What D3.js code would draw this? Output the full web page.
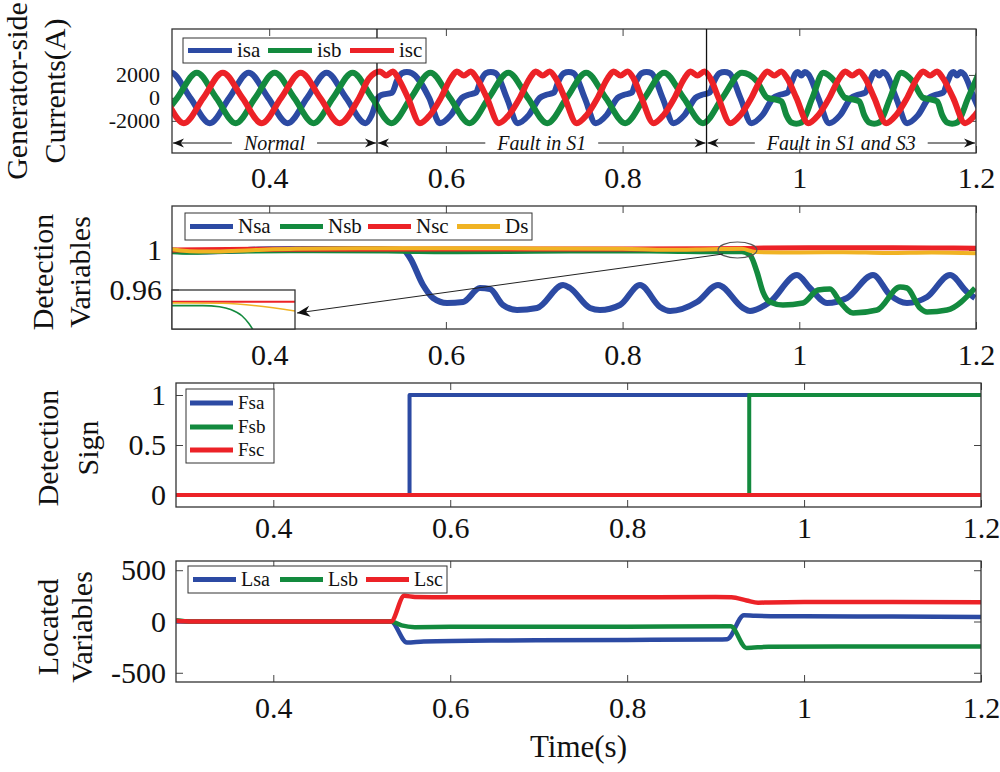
<!DOCTYPE html>
<html><head><meta charset="utf-8">
<script src="https://cdn.jsdelivr.net/npm/d3@7"></script>
<style>
html,body{margin:0;padding:0;background:#fff;}
svg text{font-family:"Liberation Serif","Times New Roman",serif;fill:#111;}
</style></head>
<body><svg id="chart" width="1000" height="772"></svg>
<script>
// ---------------- DATA ----------------
const xDomain = [0.29, 1.2];
const xTicks = [0.4, 0.6, 0.8, 1, 1.2];
const p1YTicks = [-2000, 0, 2000];
const p2YTicks = [0.96, 1];
const p3YTicks = [0, 0.5, 1];
const p4YTicks = [-500, 0, 500];
const yLabels = [["Generator-side", "Currents(A)"], ["Detection", "Variables"], ["Detection", "Sign"], ["Located", "Variables"]];
const xLabel = "Time(s)";
const colors = ["#2C4AA3", "#138A3E", "#EC2227", "#F0B323"];

// panel 1: generator-side currents (A) — key points
const regionBounds = [0.29, 0.522, 0.895, 1.2];
const regionLabels = ["Normal", "Fault in S1", "Fault in S1 and S3"];
const p1Names = ["isa", "isb", "isc"];
const isa = [[0.2667,0],[0.2887,2200],[0.3107,0],[0.3328,-2200],[0.3548,0],[0.3768,2200],[0.3989,0],[0.4209,-2200],[0.4430,0],[0.4650,2200],[0.4870,0],[0.5090,-2200],
 [0.5160,-1500],[0.5230,0],[0.5270,250],[0.5390,450],[0.5446,1500],[0.5503,2150],[0.5559,2250],[0.5616,2150],[0.5810,0],[0.5932,-2200],
 [0.6056,-1500],[0.6181,0],[0.6248,250],[0.6339,450],[0.6395,1500],[0.6452,2150],[0.6508,2250],[0.6565,2150],[0.6689,0],[0.6814,-2200],
 [0.6938,-1500],[0.7063,0],[0.7130,250],[0.7221,450],[0.7277,1500],[0.7334,2150],[0.7390,2250],[0.7447,2150],[0.7571,0],[0.7695,-2200],
 [0.7819,-1500],[0.7944,0],[0.8011,250],[0.8102,450],[0.8158,1500],[0.8215,2150],[0.8271,2250],[0.8328,2150],[0.8452,0],[0.8576,-2200],
 [0.8700,-1500],[0.8825,0],[0.8892,250],[0.8983,450],[0.9039,1500],[0.9096,2150],[0.9152,2250],[0.9209,2150],[0.9333,0],[0.9458,-2200],
 [0.9582,-1500],[0.9707,0],[0.9774,250],[0.9865,450],[0.9921,1500],[0.9955,2100],[0.9983,2250],[1.0023,1950],[1.0063,2250],[1.0102,2050],[1.0215,0],[1.0339,-2200],
 [1.0463,-1500],[1.0588,0],[1.0655,250],[1.0746,450],[1.0802,1500],[1.0836,2100],[1.0864,2250],[1.0904,1950],[1.0944,2250],[1.0983,2050],[1.1096,0],[1.1220,-2200],
 [1.1344,-1500],[1.1469,0],[1.1536,250],[1.1627,450],[1.1683,1500],[1.1717,2100],[1.1745,2250],[1.1785,1950],[1.1825,2250],[1.1864,2050],[1.1977,0],[1.2102,-2200]];
const isb = [[0.2740,-2200],[0.2960,0],[0.3181,2200],[0.3401,0],[0.3621,-2200],[0.3842,0],[0.4062,2200],[0.4283,0],[0.4503,-2200],[0.4723,0],[0.4944,2200],[0.5164,0],
 [0.5384,-2200],[0.5605,0],[0.5825,2200],[0.6046,0],[0.6266,-2200],[0.6486,0],[0.6707,2200],[0.6927,0],[0.7147,-2200],[0.7368,0],[0.7588,2200],[0.7809,0],
 [0.8029,-2200],[0.8249,0],[0.8469,2200],[0.8690,0],[0.8910,-2200],[0.9130,0],[0.9351,2200],
 [0.9515,1500],[0.9640,0],[0.9707,-100],[0.9798,-300],[0.9854,-1500],[0.9911,-2150],[0.9967,-2250],[1.0024,-2150],[1.0148,0],[1.0272,2200],
 [1.0396,1500],[1.0521,0],[1.0588,-100],[1.0679,-300],[1.0735,-1500],[1.0792,-2150],[1.0848,-2250],[1.0905,-2150],[1.1029,0],[1.1154,2200],
 [1.1278,1500],[1.1403,0],[1.1470,-100],[1.1561,-300],[1.1617,-1500],[1.1674,-2150],[1.1730,-2250],[1.1787,-2150],[1.1911,0],[1.2035,2200]];
const isc = [[0.2593,2200],[0.2814,0],[0.3034,-2200],[0.3255,0],[0.3475,2200],[0.3696,0],[0.3916,-2200],[0.4136,0],[0.4357,2200],[0.4577,0],[0.4797,-2200],[0.5018,0],
 [0.5130,1700],[0.5254,2300],[0.5322,1950],[0.5401,2300],[0.5460,1700],[0.5571,0],[0.5706,-2200],
 [0.5819,-1500],[0.5943,0],[0.6056,1700],[0.6124,2300],[0.6203,1950],[0.6282,2300],[0.6350,1700],[0.6464,0],[0.6599,-2200],
 [0.6712,-1500],[0.6836,0],[0.6949,1700],[0.7017,2300],[0.7096,1950],[0.7175,2300],[0.7243,1700],[0.7345,0],[0.7480,-2200],
 [0.7593,-1500],[0.7717,0],[0.7830,1700],[0.7898,2300],[0.7977,1950],[0.8056,2300],[0.8124,1700],[0.8215,0],[0.8350,-2200],
 [0.8463,-1500],[0.8587,0],[0.8700,1700],[0.8768,2300],[0.8847,1950],[0.8926,2300],[0.8994,1700],[0.9085,0],[0.9220,-2200],
 [0.9333,-1500],[0.9457,0],[0.9570,1700],[0.9638,2300],[0.9717,1950],[0.9796,2300],[0.9864,1700],[0.9967,0],[1.0102,-2200],
 [1.0215,-1500],[1.0339,0],[1.0452,1700],[1.0520,2300],[1.0599,1950],[1.0678,2300],[1.0746,1700],[1.0848,0],[1.0983,-2200],
 [1.1096,-1500],[1.1220,0],[1.1333,1700],[1.1401,2300],[1.1480,1950],[1.1559,2300],[1.1627,1700],[1.1741,0],[1.1876,-2200],
 [1.1989,-1500],[1.2113,0]];

// panel 2: detection variables
const p2Names = ["Nsa", "Nsb", "Nsc", "Ds"];
const Nsa = [[0.29,0.9995],[0.31,0.9985],[0.35,0.999],[0.40,1.0008],[0.50,1.001],[0.5515,1.0],[0.5594,0.992],[0.5741,0.965],[0.5854,0.952],[0.6013,0.947],[0.6194,0.948],[0.6386,0.962],[0.6499,0.961],[0.6646,0.945],[0.6805,0.940],[0.7031,0.942],[0.7326,0.965],[0.7405,0.962],[0.7631,0.942],[0.7744,0.940],[0.7971,0.945],[0.8197,0.965],[0.8423,0.943],[0.8537,0.939],[0.8842,0.948],[0.9080,0.965],[0.9363,0.942],[0.9442,0.939],[0.9668,0.948],[0.9974,0.975],[1.0121,0.962],[1.0314,0.947],[1.0540,0.952],[1.0834,0.975],[1.1027,0.955],[1.1219,0.947],[1.1446,0.953],[1.1706,0.975],[1.1898,0.958],[1.1989,0.952]];
const Nsb = [[0.29,0.9985],[0.31,0.998],[0.35,0.999],[0.45,0.9995],[0.55,0.999],[0.60,0.9985],[0.70,0.999],[0.80,0.9993],[0.85,0.999],[0.90,0.9985],[0.935,0.9985],[0.9442,0.995],[0.9521,0.978],[0.9589,0.958],[0.9668,0.948],[0.9815,0.945],[1.0042,0.947],[1.0212,0.960],[1.0348,0.961],[1.0461,0.948],[1.0608,0.937],[1.0880,0.940],[1.1140,0.963],[1.1219,0.962],[1.1366,0.942],[1.1446,0.938],[1.1672,0.940],[1.1989,0.962]];
const Nsc = [[0.29,1.0],[0.40,1.0008],[0.60,1.001],[0.80,1.001],[0.90,1.0012],[0.94,1.0015],[0.96,1.002],[1.05,1.0022],[1.15,1.002],[1.2,1.0018]];
const Ds = [[0.29,1.0008],[0.30,0.9995],[0.32,0.9984],[0.34,0.9985],[0.38,0.9998],[0.43,1.0012],[0.50,1.0017],[0.60,1.0017],[0.70,1.0016],[0.80,1.0012],[0.85,1.0002],[0.90,1.0008],[0.935,1.0012],[0.95,0.998],[1.0,0.9975],[1.05,0.9978],[1.1,0.997],[1.15,0.9975],[1.2,0.9968]];
// inset (zoom of the ellipse region)
const insetX = [0.907, 0.951];
const insetY = [0.9965, 1.0015];
const insetNsb = [[0.907,0.9995],[0.918,0.9995],[0.924,0.99935],[0.928,0.9990],[0.932,0.9982],[0.9345,0.9972],[0.937,0.9958]];
const insetNsc = [[0.907,1.0],[0.951,1.0]];
const insetDs = [[0.907,0.99985],[0.925,0.9998],[0.951,0.9988]];

// panel 3: detection sign
const p3Names = ["Fsa", "Fsb", "Fsc"];
const p3T = [0.29, 0.554, 0.938, 1.2];
const Fsa = [0, 1, 1, 1];
const Fsb = [0, 0, 1, 1];
const Fsc = [0, 0, 0, 0];

// panel 4: located variables
const p4Names = ["Lsa", "Lsb", "Lsc"];
const Lsa = [[0.29,0],[0.533,0],[0.551,-205],[0.57,-195],[0.65,-185],[0.80,-180],[0.90,-175],[0.913,-172],[0.932,62],[0.945,55],[1.0,50],[1.1,48],[1.2,45]];
const Lsb = [[0.29,12],[0.30,3],[0.31,0],[0.533,0],[0.545,-38],[0.56,-55],[0.60,-52],[0.80,-50],[0.917,-47],[0.935,-258],[0.96,-246],[1.1,-244],[1.2,-243]];
const Lsc = [[0.29,8],[0.30,2],[0.31,0],[0.533,0],[0.548,250],[0.56,240],[0.60,236],[0.70,236],[0.80,237],[0.90,238],[0.918,236],[0.935,205],[0.948,183],[0.96,186],[1.0,190],[1.1,189],[1.2,188]];

// ---------------- DRAW ----------------
const svg = d3.select("#chart");
const defs = svg.append("defs");
const LABFS = 30;

function makePanel(i, cfg) {
  const x = d3.scaleLinear().domain(xDomain).range([cfg.left, cfg.right]);
  const y = d3.scaleLinear().domain(cfg.yDomain).range([cfg.bottom, cfg.top]);
  defs.append("clipPath").attr("id", "clip" + i).append("rect")
    .attr("x", cfg.left).attr("y", cfg.top).attr("width", cfg.right - cfg.left).attr("height", cfg.bottom - cfg.top);
  const axes = svg.append("g");
  const fmt = d => String(d);
  const gb = axes.append("g").attr("transform", `translate(0,${cfg.bottom})`)
    .call(d3.axisBottom(x).tickValues(xTicks).tickSize(-7).tickPadding(cfg.xPad).tickFormat(fmt));
  const gt = axes.append("g").attr("transform", `translate(0,${cfg.top})`)
    .call(d3.axisTop(x).tickValues(xTicks).tickSize(-7).tickFormat(""));
  const gl = axes.append("g").attr("transform", `translate(${cfg.left},0)`)
    .call(d3.axisLeft(y).tickValues(cfg.yTicks).tickSize(-7).tickPadding(cfg.yPad).tickFormat(fmt));
  const gr = axes.append("g").attr("transform", `translate(${cfg.right},0)`)
    .call(d3.axisRight(y).tickValues(cfg.yTicks).tickSize(-7).tickFormat(""));
  [gb, gt, gl, gr].forEach(g => {
    g.select(".domain").remove();
    g.attr("font-size", 30).attr("font-family", null);
    g.selectAll("line").attr("stroke", "#444").attr("stroke-width", 1);
    g.selectAll("text").attr("fill", "#111");
  });
  gl.attr("font-size", cfg.yFs);
  const plot = svg.append("g").attr("clip-path", `url(#clip${i})`);
  svg.append("rect").attr("x", cfg.left).attr("y", cfg.top)
    .attr("width", cfg.right - cfg.left).attr("height", cfg.bottom - cfg.top)
    .attr("fill", "none").attr("stroke", "#333").attr("stroke-width", 1.3);
  yLabels[i].forEach((s, k) => {
    svg.append("text").attr("transform", `translate(${cfg.labelX[k]},${cfg.labelY}) rotate(-90)`)
      .attr("text-anchor", "middle").attr("dy", "0.32em").attr("font-size", LABFS).text(s);
  });
  return { x, y, plot, cfg };
}

function line(g, data, color, width, x, y, curve) {
  g.append("path").datum(data).attr("fill", "none").attr("stroke", color)
    .attr("stroke-width", width).attr("stroke-linejoin", "round")
    .attr("d", d3.line().x(d => x(d[0])).y(d => y(d[1])).curve(curve || d3.curveMonotoneX));
}

function legend(box, entries, lineLen, fs, lw) {
  svg.append("rect").attr("x", box.x).attr("y", box.y).attr("width", box.w).attr("height", box.h)
    .attr("fill", "#fff").attr("stroke", "#333").attr("stroke-width", 1);
  entries.forEach(e => {
    svg.append("line").attr("x1", e.x).attr("x2", e.x + lineLen).attr("y1", e.y).attr("y2", e.y)
      .attr("stroke", e.color).attr("stroke-width", lw);
    svg.append("text").attr("x", e.x + lineLen + 5).attr("y", e.y).attr("dy", "0.33em")
      .attr("font-size", fs).text(e.label);
  });
}

const cfgs = [
  { left: 172, right: 976, top: 29, bottom: 153, yDomain: [-4800, 6000], yTicks: p1YTicks, xPad: 14, yFs: 22, yPad: 12, labelX: [17, 55], labelY: 91 },
  { left: 172, right: 976, top: 206, bottom: 329, yDomain: [0.921, 1.044], yTicks: p2YTicks, xPad: 15, yFs: 30, yPad: 10, labelX: [43, 80], labelY: 272 },
  { left: 176, right: 981, top: 383, bottom: 507, yDomain: [-0.12, 1.12], yTicks: p3YTicks, xPad: 10, yFs: 30, yPad: 10, labelX: [48, 88], labelY: 448 },
  { left: 176, right: 981, top: 561, bottom: 682, yDomain: [-590, 590], yTicks: p4YTicks, xPad: 15, yFs: 30, yPad: 10, labelX: [48, 82], labelY: 627 }
];

// ----- Panel 1
const P1 = makePanel(0, cfgs[0]);
[isa, isb, isc].forEach((d, k) => line(P1.plot, d, colors[k], 6, P1.x, P1.y));
regionBounds.slice(1, 3).forEach(t => {
  svg.append("line").attr("x1", P1.x(t)).attr("x2", P1.x(t)).attr("y1", cfgs[0].top).attr("y2", cfgs[0].bottom)
    .attr("stroke", "#111").attr("stroke-width", 1.3);
});
function arrowHead(xTip, yy, dir) {
  const L = 11, H = 4.5;
  svg.append("path").attr("d", `M${xTip},${yy} L${xTip - dir * L},${yy - H} L${xTip - dir * L * 0.7},${yy} L${xTip - dir * L},${yy + H} Z`)
    .attr("fill", "#111");
}
const annY = cfgs[0].bottom - 10;
regionLabels.forEach((s, k) => {
  const x0 = P1.x(regionBounds[k]), x1 = P1.x(regionBounds[k + 1]);
  const xm = (x0 + x1) / 2;
  const t = svg.append("text").attr("x", xm).attr("y", annY).attr("dy", "0.33em").attr("text-anchor", "middle")
    .attr("font-size", 20).attr("font-style", "italic").text(s);
  const w = t.node().getComputedTextLength();
  const gap = 12;
  svg.append("line").attr("x1", x0 + 1).attr("x2", xm - w / 2 - gap).attr("y1", annY).attr("y2", annY).attr("stroke", "#111").attr("stroke-width", 1);
  svg.append("line").attr("x1", xm + w / 2 + gap).attr("x2", x1 - 1).attr("y1", annY).attr("y2", annY).attr("stroke", "#111").attr("stroke-width", 1);
  arrowHead(x0 + 1, annY, -1);
  arrowHead(x1 - 1, annY, 1);
});
legend({ x: 183, y: 38, w: 243, h: 25 },
  p1Names.map((n, k) => ({ label: n, color: colors[k], x: [188, 268, 350][k], y: 50.5 })), 44, 21, 5);

// ----- Panel 2
const P2 = makePanel(1, cfgs[1]);
line(P2.plot, Nsa, colors[0], 6, P2.x, P2.y);
line(P2.plot, Nsb, colors[1], 5.5, P2.x, P2.y);
line(P2.plot, Nsc, colors[2], 5, P2.x, P2.y);
line(P2.plot, Ds, colors[3], 4, P2.x, P2.y);
const ins = { left: cfgs[1].left, right: cfgs[1].left + 123, top: cfgs[1].bottom - 39, bottom: cfgs[1].bottom };
const ix = d3.scaleLinear().domain(insetX).range([ins.left, ins.right]);
const iy = d3.scaleLinear().domain(insetY).range([ins.bottom, ins.top]);
defs.append("clipPath").attr("id", "clipInset").append("rect")
  .attr("x", ins.left).attr("y", ins.top).attr("width", ins.right - ins.left).attr("height", ins.bottom - ins.top);
svg.append("rect").attr("x", ins.left).attr("y", ins.top).attr("width", ins.right - ins.left).attr("height", ins.bottom - ins.top)
  .attr("fill", "#fff");
const ig = svg.append("g").attr("clip-path", "url(#clipInset)");
line(ig, insetNsb, colors[1], 1.6, ix, iy);
line(ig, insetNsc, colors[2], 2, ix, iy);
line(ig, insetDs, colors[3], 1.6, ix, iy);
svg.append("rect").attr("x", ins.left).attr("y", ins.top).attr("width", ins.right - ins.left).attr("height", ins.bottom - ins.top)
  .attr("fill", "none").attr("stroke", "#333").attr("stroke-width", 1.3);
svg.append("line").attr("x1", ins.left).attr("x2", ins.left + 7).attr("y1", P2.y(0.96)).attr("y2", P2.y(0.96)).attr("stroke", "#444");
const ell = { t: 0.93, v: 1.0, dt: 0.022, dv: 0.008 };
svg.append("ellipse").attr("cx", P2.x(ell.t)).attr("cy", P2.y(ell.v))
  .attr("rx", P2.x(ell.t + ell.dt) - P2.x(ell.t)).attr("ry", P2.y(ell.v - ell.dv) - P2.y(ell.v))
  .attr("fill", "none").attr("stroke", "#555").attr("stroke-width", 1.2);
const arrowFrom = [0.9137, 0.996], arrowTo = [0.4315, 0.937];
{
  const xa = P2.x(arrowFrom[0]), ya = P2.y(arrowFrom[1]), xb = P2.x(arrowTo[0]), yb = P2.y(arrowTo[1]);
  svg.append("line").attr("x1", xa).attr("y1", ya).attr("x2", xb).attr("y2", yb).attr("stroke", "#222").attr("stroke-width", 1);
  const ang = Math.atan2(yb - ya, xb - xa) * 180 / Math.PI;
  svg.append("path").attr("d", "M0,0 L-13,-5.5 L-9,0 L-13,5.5 Z").attr("fill", "#111")
    .attr("transform", `translate(${xb},${yb}) rotate(${ang})`);
}
legend({ x: 185, y: 213, w: 347, h: 27 },
  p2Names.map((n, k) => ({ label: n, color: colors[k], x: [190, 280, 368, 457][k], y: 226.5 })), 43, 21, 5);

// ----- Panel 3
const P3 = makePanel(2, cfgs[2]);
[Fsa, Fsb, Fsc].forEach((vals, k) => {
  line(P3.plot, p3T.map((t, j) => [t, vals[j]]), colors[k], 4, P3.x, P3.y, d3.curveStepAfter);
});
legend({ x: 186, y: 389, w: 88, h: 74 },
  p3Names.map((n, k) => ({ label: n, color: colors[k], x: 190, y: [403, 427, 450][k] })), 43, 19, 5);

// ----- Panel 4
const P4 = makePanel(3, cfgs[3]);
[Lsa, Lsb, Lsc].forEach((d, k) => line(P4.plot, d, colors[k], 4.5, P4.x, P4.y));
legend({ x: 188, y: 566, w: 259, h: 27 },
  p4Names.map((n, k) => ({ label: n, color: colors[k], x: [193, 280, 366][k], y: 579.5 })), 43, 20, 5);

svg.append("text").attr("x", (cfgs[3].left + cfgs[3].right) / 2).attr("y", 757).attr("text-anchor", "middle")
  .attr("font-size", 31).text(xLabel);
</script>
</body></html>
